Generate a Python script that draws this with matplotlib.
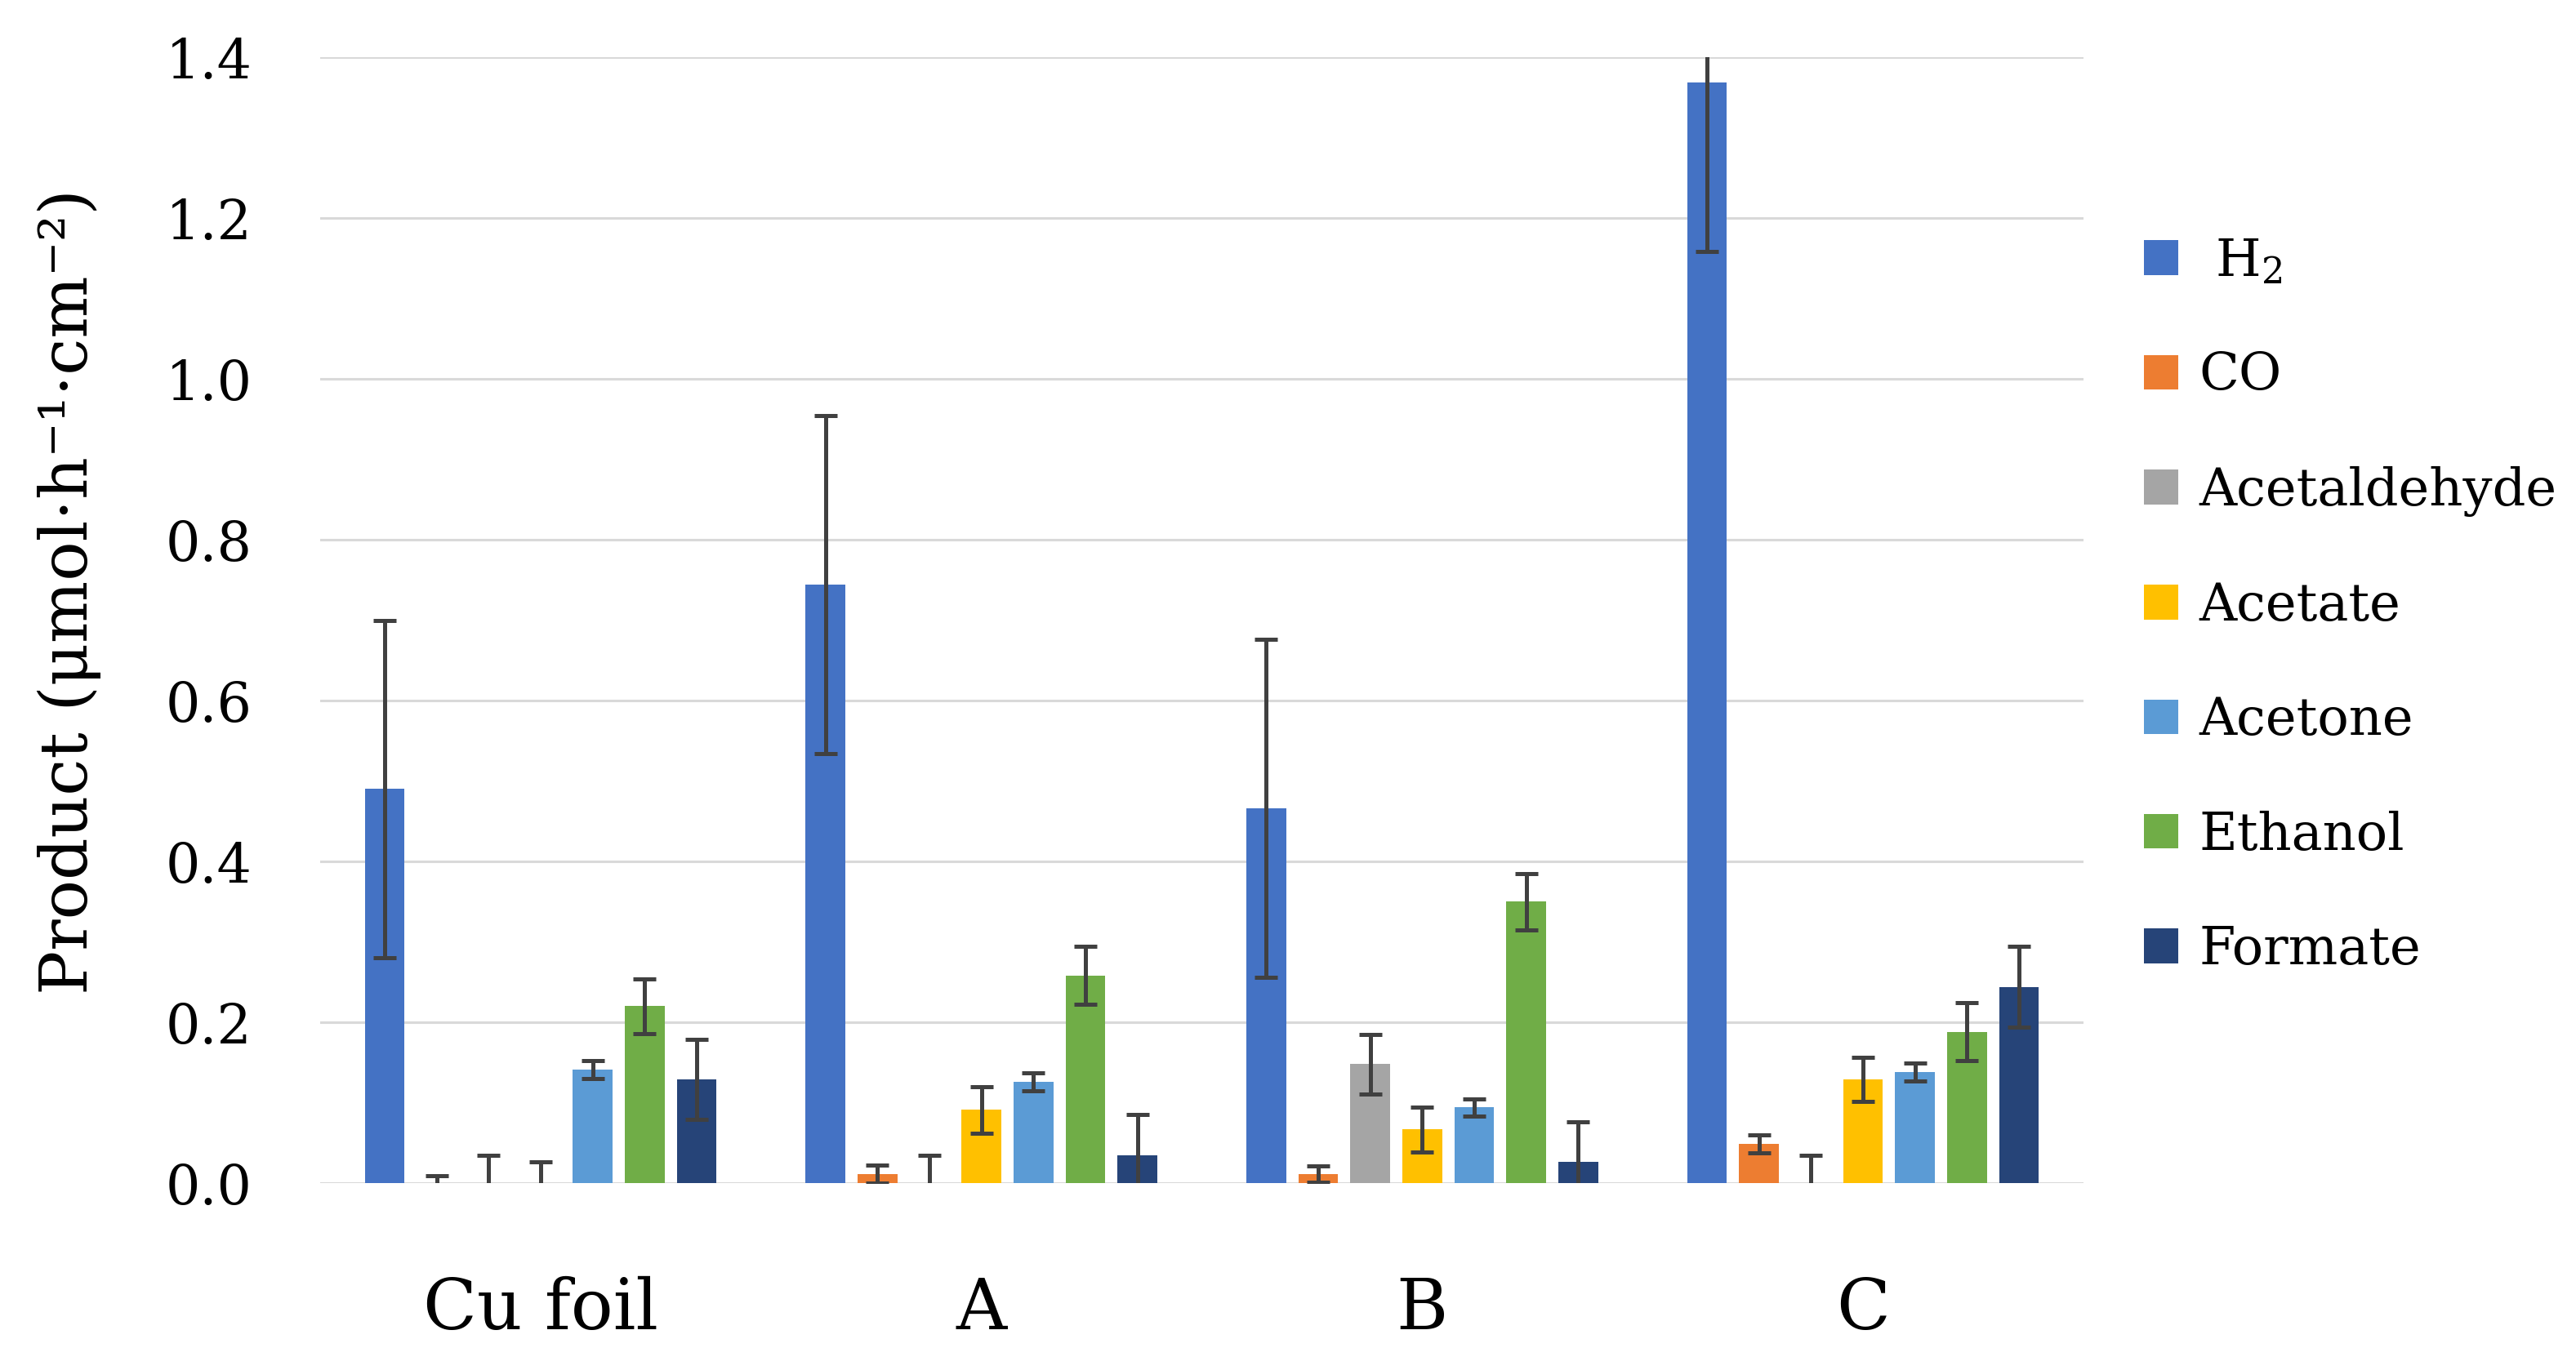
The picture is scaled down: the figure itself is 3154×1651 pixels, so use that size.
import numpy as np
import matplotlib
matplotlib.use("Agg")
import matplotlib.pyplot as plt

# data
categories = ["Cu foil", "A", "B", "C"]
products = [" H$_2$", "CO", "Acetaldehyde", "Acetate", "Acetone", "Ethanol", "Formate"]

h2 = [0.490, 0.744, 0.466, 1.369]
h2_err = [0.210, 0.210, 0.210, 0.211]
co = [0.000, 0.011, 0.011, 0.049]
co_err = [0.009, 0.011, 0.010, 0.011]
acetaldehyde = [0.000, 0.000, 0.148, 0.000]
acetaldehyde_err = [0.035, 0.035, 0.037, 0.035]
acetate = [0.000, 0.091, 0.067, 0.129]
acetate_err = [0.026, 0.029, 0.028, 0.027]
acetone = [0.141, 0.126, 0.094, 0.138]
acetone_err = [0.011, 0.011, 0.011, 0.011]
ethanol = [0.220, 0.258, 0.350, 0.188]
ethanol_err = [0.034, 0.036, 0.035, 0.036]
formate = [0.129, 0.035, 0.026, 0.244]
formate_err = [0.050, 0.050, 0.050, 0.050]

series = [h2, co, acetaldehyde, acetate, acetone, ethanol, formate]
errors = [h2_err, co_err, acetaldehyde_err, acetate_err, acetone_err, ethanol_err, formate_err]
colors = ["#4472C4", "#ED7D31", "#A5A5A5", "#FFC000", "#5B9BD5", "#70AD47", "#264478"]

plt.rcParams["font.family"] = ["DejaVu Serif"]
plt.rcParams["mathtext.fontset"] = "dejavuserif"

fig = plt.figure(figsize=(15.77, 8.255), dpi=200)
ax = fig.add_axes([0.1243, 0.1223, 0.6845, 0.8353])

x = np.arange(len(categories))
step = 0.118
width = 0.09
for i, (vals, errs, col, lab) in enumerate(zip(series, errors, colors, products)):
    pos = x + (i - 3) * step
    ax.bar(pos, vals, width, color=col, label=lab, zorder=3)
    ax.errorbar(pos, vals, yerr=errs, fmt="none", ecolor="#404040",
                elinewidth=1.8, capsize=5.2, capthick=1.8, zorder=4)

ax.set_xlim(-0.5, 3.5)
ax.set_ylim(0, 1.4)
ax.set_yticks(np.arange(0, 1.41, 0.2))
ax.set_yticklabels([f"{v:.1f}" for v in np.arange(0, 1.41, 0.2)])
ax.set_xticks(x)
ax.set_xticklabels(categories)
ax.grid(axis="y", color="#D9D9D9", linewidth=1.1, zorder=0)
ax.set_axisbelow(True)
for s in ax.spines.values():
    s.set_visible(False)
ax.tick_params(axis="y", length=0, pad=30, labelsize=24)
ax.tick_params(axis="x", length=0, pad=41, labelsize=31)
ax.set_ylabel("Product (μmol·h⁻¹·cm⁻²)", fontsize=29)
ax.yaxis.set_label_coords(-0.124, 0.5255)

fig.legend(loc="center left", bbox_to_anchor=(0.8323, 0.5506), frameon=False,
           fontsize=23, handlelength=0.65, handleheight=0.65, handletextpad=0.4,
           labelspacing=1.24, borderpad=0, borderaxespad=0)

fig.savefig("out.png", dpi=200)
